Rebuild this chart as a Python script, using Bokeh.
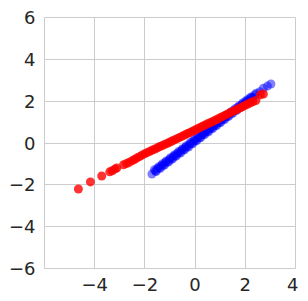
from bokeh.plotting import figure
from bokeh.models import FixedTicker, Range1d
from bokeh.embed import file_html
from bokeh.resources import INLINE

blue_x_a = [-1.72, -1.62, -1.55, -1.45, -1.38, -1.30, -1.22, -1.15, -1.05, -0.98, -0.90, -0.82, -0.75, -0.66,
            -0.58, -0.50, -0.42, -0.35, -0.26, -0.18, -0.10, -0.02, 0.06, 0.14, 0.22, 0.30, 0.38, 0.46, 0.54,
            0.62, 0.70, 0.78, 0.86, 0.94, 1.02, 1.10, 1.18, 1.26, 1.34, 1.42, 1.50, 1.58, 1.66, 1.74, 1.82,
            1.90, 1.98, 2.06, 2.14, 2.22, 2.32, 2.44, 2.58, 2.72, 2.88, 3.02]
blue_y_a = [-1.48, -1.28, -1.36, -1.13, -1.21, -0.99, -1.06, -0.86, -0.91, -0.70, -0.77, -0.56, -0.63, -0.41,
            -0.48, -0.27, -0.33, -0.13, -0.19, 0.03, -0.04, 0.17, 0.10, 0.32, 0.25, 0.46, 0.40, 0.61, 0.54,
            0.75, 0.69, 0.90, 0.83, 1.05, 0.98, 1.19, 1.12, 1.34, 1.27, 1.48, 1.42, 1.63, 1.56, 1.77, 1.71,
            1.92, 1.85, 2.06, 2.00, 2.20, 2.19, 2.38, 2.45, 2.62, 2.72, 2.82]
blue_x_b = [-1.58, -1.50, -1.42, -1.34, -1.26, -1.18, -1.10, -1.02, -0.94, -0.86, -0.78, -0.70, -0.62, -0.54,
            -0.46, -0.38, -0.30, -0.22, -0.14, -0.06, 0.02, 0.10, 0.18, 0.26, 0.34, 0.42, 0.50, 0.58, 0.66,
            0.74, 0.82, 0.90, 0.98, 1.06, 1.14, 1.22, 1.30, 1.38, 1.46, 1.54, 1.62, 1.70, 1.78, 1.86, 1.94,
            2.02, 2.10, 2.18, 2.27, 2.38]
blue_y_b = [-1.34, -1.22, -1.19, -1.07, -1.05, -0.92, -0.90, -0.78, -0.76, -0.63, -0.61, -0.49, -0.46, -0.34,
            -0.32, -0.20, -0.17, -0.05, -0.03, 0.10, 0.12, 0.24, 0.26, 0.39, 0.41, 0.53, 0.56, 0.68, 0.70,
            0.82, 0.85, 0.97, 0.99, 1.11, 1.14, 1.26, 1.28, 1.41, 1.43, 1.55, 1.57, 1.70, 1.72, 1.84, 1.87,
            1.99, 2.01, 2.13, 2.17, 2.31]

red_x = [-4.65, -4.17, -3.72, -3.40, -3.30, -3.19, -3.12, -2.85, -2.73, -2.62, -2.50, -2.40, -2.30, -2.20,
         -2.10, -2.00, -1.90, -1.80, -1.70, -1.60, -1.50, -1.40, -1.30, -1.20, -1.10, -1.00, -0.90, -0.80,
         -0.70, -0.60, -0.50, -0.40, -0.30, -0.20, -0.10, 0.00, 0.10, 0.20, 0.30, 0.40, 0.50, 0.60, 0.70,
         0.80, 0.90, 1.00, 1.10, 1.20, 1.30, 1.40, 1.50, 1.60, 1.70, 1.80, 1.90, 2.00, 2.10, 2.20, 2.30,
         2.42, 2.60, 2.72]
red_y = [-2.20, -1.86, -1.58, -1.38, -1.33, -1.24, -1.20, -1.04, -0.98, -0.92, -0.84, -0.78, -0.70, -0.64,
         -0.57, -0.51, -0.45, -0.40, -0.34, -0.29, -0.23, -0.17, -0.12, -0.06, -0.01, 0.05, 0.11, 0.16,
         0.22, 0.28, 0.33, 0.39, 0.45, 0.50, 0.56, 0.62, 0.68, 0.74, 0.80, 0.86, 0.92, 0.97, 1.03,
         1.09, 1.15, 1.21, 1.27, 1.33, 1.39, 1.45, 1.51, 1.56, 1.62, 1.68, 1.74, 1.80, 1.86, 1.92, 1.97,
         2.03, 2.30, 2.34]

x_ticks = [-4, -2, 0, 2, 4]
x_labels = ["\u22124", "\u22122", "0", "2", "4"]
y_ticks = [-6, -4, -2, 0, 2, 4, 6]
y_labels = ["\u22126", "\u22124", "\u22122", "0", "2", "4", "6"]

p = figure(width=298, height=300, output_backend="svg", toolbar_location=None,
           x_range=Range1d(-6, 4), y_range=Range1d(-6, 6),
           min_border_left=44, min_border_top=17, min_border_right=3, min_border_bottom=0)
p.frame_width = 251
p.frame_height = 251

p.scatter(blue_x_a + blue_x_b, blue_y_a + blue_y_b, size=9, color="blue", alpha=0.5, line_color=None)
p.scatter(red_x, red_y, size=9, color="red", alpha=0.8, line_color=None)

p.xaxis.ticker = FixedTicker(ticks=x_ticks)
p.yaxis.ticker = FixedTicker(ticks=y_ticks)
p.xaxis.major_label_overrides = dict(zip(x_ticks, x_labels))
p.yaxis.major_label_overrides = dict(zip(y_ticks, y_labels))

for ax in (p.xaxis, p.yaxis):
    ax.axis_line_color = None
    ax.major_tick_line_color = None
    ax.minor_tick_line_color = None
    ax.major_tick_out = 0
    ax.major_tick_in = 0
    ax.major_label_text_font = "DejaVu Sans"
    ax.major_label_text_font_size = "18px"
    ax.major_label_text_color = "#262626"
    ax.major_label_standoff = 9

p.xgrid.grid_line_color = "#cccccc"
p.ygrid.grid_line_color = "#cccccc"
p.outline_line_color = "#cccccc"
p.outline_line_width = 1
p.background_fill_color = "white"
p.border_fill_color = "white"

open("out.html", "w").write(file_html(p, INLINE))
